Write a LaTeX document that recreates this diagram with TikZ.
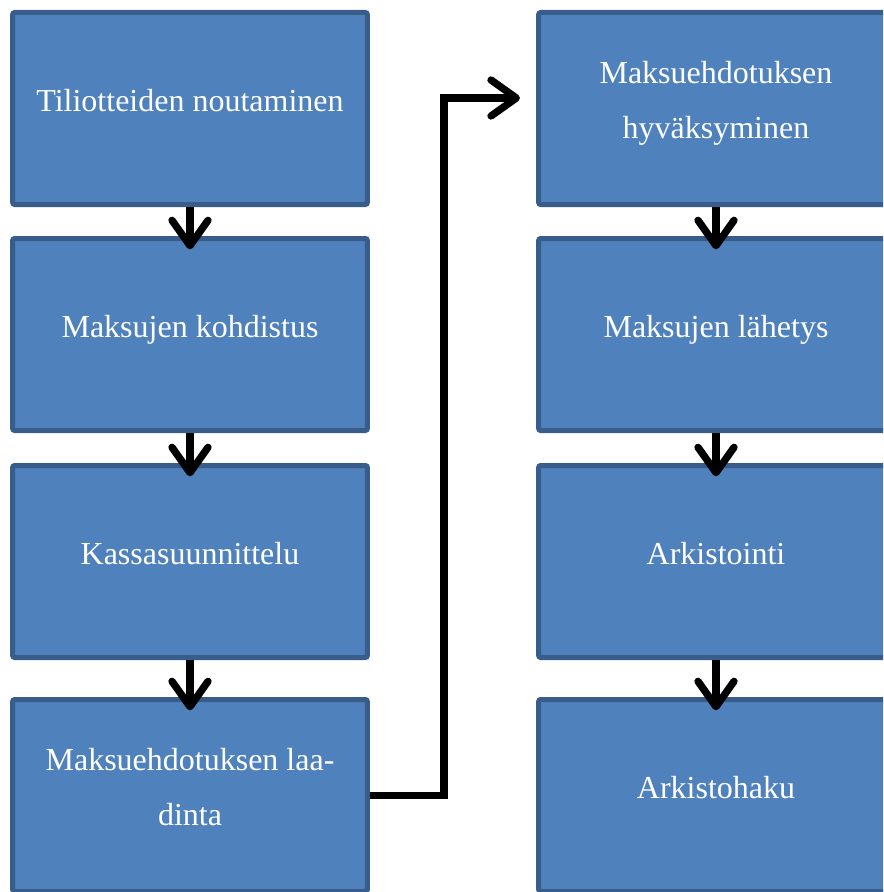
\documentclass[tikz,border=0pt]{standalone}
\usepackage{fontspec}
\setmainfont{Liberation Serif}
\usetikzlibrary{arrows.meta}

\definecolor{boxfill}{HTML}{4F81BD}
\definecolor{boxedge}{HTML}{385D8A}

\begin{document}
\begin{tikzpicture}[x=0.75pt, y=-0.75pt,
	stage/.style={draw=boxedge, fill=boxfill, line width=3.75pt, rounded corners=1.5pt,
		minimum width=266pt, minimum height=144pt, inner sep=0pt, text=white, align=center,
		font=\fontsize{24}{41.4}\selectfont, text height=11pt, text depth=7pt},
	twoline/.style={text height=52pt, text depth=7pt},
	flow/.style={line width=5.5pt, -{Straight Barb[length=19pt, width=27pt, round]}}]
	\useasboundingbox (0,0) rectangle (883,892);
	\clip (0,0) rectangle (883,892);
	% left column
	\node[stage] (tiliot) at (190,108.5) {Tiliotteiden noutaminen};
	\node[stage] (kohd) at (190,334.5) {Maksujen kohdistus};
	\node[stage] (kassa) at (190,561.5) {Kassasuunnittelu};
	\node[stage, twoline] (laadinta) at (190,795.5) {Maksuehdotuksen laa-\\dinta};
	% right column
	\node[stage, twoline] (hyv) at (716,108.5) {Maksuehdotuksen\\hyväksyminen};
	\node[stage] (lahetys) at (716,334.5) {Maksujen lähetys};
	\node[stage] (arkist) at (716,561.5) {Arkistointi};
	\node[stage] (haku) at (716,795.5) {Arkistohaku};
	\coordinate (in) at (520,98);
	\foreach \a/\b in {tiliot/kohd, kohd/kassa, kassa/laadinta, hyv/lahetys, lahetys/arkist, arkist/haku}
		\draw[flow] (\a.south) -- ([yshift=-10pt]\b.north);
	\draw[flow] (laadinta.east) -- ++(74,0) |- (in);
\end{tikzpicture}
\end{document}
